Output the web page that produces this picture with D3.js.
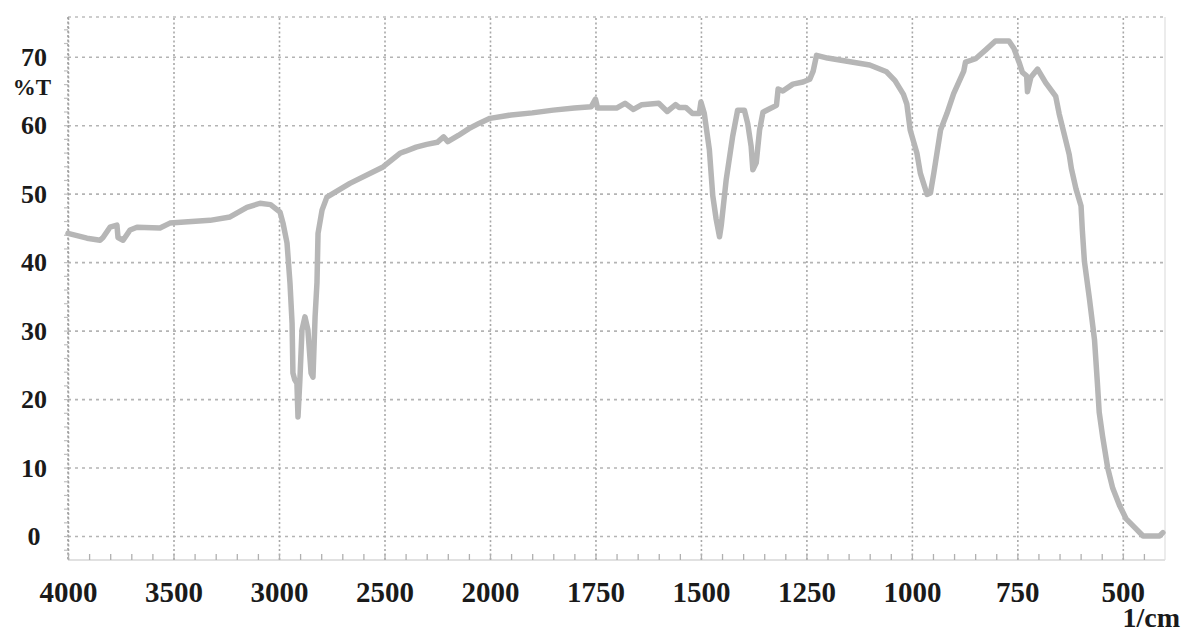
<!DOCTYPE html>
<html>
<head>
<meta charset="utf-8">
<script src="https://cdn.jsdelivr.net/npm/d3@7"></script>
<style>
  html, body { margin: 0; padding: 0; background: #fff; }
  svg { display: block; }
  .tick-label { font-family: "Liberation Serif", "Times New Roman", serif; font-weight: bold; fill: #1a1a1a; }
</style>
</head>
<body>
<svg id="chart" width="1186" height="636"></svg>
<script>
// FTIR transmittance spectrum: wavenumber (1/cm) vs %T
const wavenumbers = [
  4000, 3910, 3848, 3834, 3801, 3768, 3763, 3739, 3706, 3673, 3564, 3517, 3327, 3232, 3152, 3090,
  3040, 2995, 2981, 2962, 2948, 2938, 2934, 2925, 2915, 2910, 2901, 2891, 2877, 2863, 2848, 2839,
  2829, 2820, 2815, 2796, 2773, 2664, 2507, 2427, 2400, 2350, 2300, 2250, 2220, 2200, 2150, 2100,
  2050, 2000, 1950, 1900, 1850, 1800, 1760, 1750, 1745, 1700, 1680, 1660, 1640, 1600, 1580, 1560,
  1552, 1536, 1520, 1504, 1500, 1492, 1480, 1472, 1464, 1456, 1452, 1440, 1425, 1413, 1397, 1389,
  1381, 1377, 1369, 1361, 1353, 1337, 1321, 1317, 1306, 1282, 1258, 1242, 1234, 1226, 1200, 1150,
  1100, 1060, 1040, 1020, 1012, 1004, 988, 980, 964, 956, 948, 932, 917, 901, 877, 873,
  849, 825, 802, 770, 758, 746, 738, 728, 726, 718, 702, 683, 659, 651, 635, 627,
  622, 611, 599, 596, 591, 579, 567, 560, 556, 548, 536, 524, 508, 492, 468, 452,
  413, 405
];
const transmittance = [
  44.2, 43.5, 43.2, 43.6, 45.1, 45.4, 43.6, 43.2, 44.7, 45.1, 45.0, 45.7, 46.1, 46.6, 48.0, 48.6,
  48.4, 47.3, 45.7, 42.8, 37.0, 31.1, 23.8, 22.8, 22.3, 17.4, 22.8, 30.1, 32.0, 30.1, 23.8, 23.2,
  32.0, 37.0, 44.2, 47.6, 49.5, 51.5, 53.9, 55.9, 56.2, 56.8, 57.2, 57.5, 58.3, 57.6, 58.5, 59.5,
  60.3, 61.0, 61.5, 61.8, 62.2, 62.5, 62.7, 63.8, 62.5, 62.5, 63.2, 62.3, 63.0, 63.2, 62.0, 63.0,
  62.6, 62.6, 61.7, 61.7, 63.4, 61.7, 56.4, 49.7, 46.3, 43.7, 45.3, 52.1, 58.3, 62.2, 62.2, 60.2,
  56.9, 53.5, 54.5, 59.3, 61.9, 62.4, 62.9, 65.3, 65.0, 66.0, 66.3, 66.7, 67.9, 70.2, 69.8, 69.3,
  68.8, 67.8, 66.5, 64.5, 63.1, 59.3, 55.9, 53.0, 49.9, 50.1, 53.0, 59.3, 61.7, 64.6, 67.9, 69.2,
  69.7, 71.0, 72.3, 72.3, 71.2, 69.2, 67.7, 67.2, 64.9, 67.0, 68.2, 66.2, 64.2, 61.7, 57.7, 55.7,
  53.7, 50.7, 48.2, 44.7, 40.1, 34.6, 28.6, 22.1, 18.1, 14.6, 10.0, 7.0, 4.5, 2.5, 1.0, 0.0,
  0.0, 0.5
];

const xTickValues = [4000, 3500, 3000, 2500, 2000, 1750, 1500, 1250, 1000, 750, 500];
const yTickValues = [0, 10, 20, 30, 40, 50, 60, 70];
const xUnitLabel = "1/cm";
const yUnitLabel = "%T";

const spectrum = wavenumbers.map((w, i) => ({ w, t: transmittance[i] }));

const svg = d3.select("#chart");
const plot = { left: 68, right: 1165, top: 17, bottom: 560 };
const serif = '"Liberation Serif", "Times New Roman", serif';

// Instrument-style abscissa: scale halves below 2000 1/cm
const x = d3.scaleLinear().domain([4000, 2000, 400]).range([plot.left, 490, plot.right]);
const y = d3.scaleLinear().domain([-3.5, 75.8]).range([plot.bottom, plot.top]);

const g = svg.append("g");

// horizontal grid
g.append("g")
  .attr("transform", `translate(${plot.left},0)`)
  .call(d3.axisLeft(y).tickValues(yTickValues).tickSize(-(plot.right - plot.left)).tickFormat(""))
  .call(s => s.select(".domain").remove())
  .call(s => s.selectAll("line").attr("stroke", "#b4b4b4").attr("stroke-width", 1.6).attr("stroke-dasharray", "3,4"));

// vertical grid
g.append("g")
  .attr("transform", `translate(0,${plot.bottom})`)
  .call(d3.axisBottom(x).tickValues(xTickValues).tickSize(-(plot.bottom - plot.top)).tickFormat(""))
  .call(s => s.select(".domain").remove())
  .call(s => s.selectAll("line").attr("stroke", "#a8a8a8").attr("stroke-width", 1.6).attr("stroke-dasharray", "2,2.5"));

// frame
g.append("line").attr("x1", plot.left).attr("x2", plot.right).attr("y1", plot.top).attr("y2", plot.top)
  .attr("stroke", "#bdbdbd").attr("stroke-width", 1.5).attr("stroke-dasharray", "3,4");
g.append("line").attr("x1", plot.left).attr("x2", plot.right).attr("y1", plot.bottom).attr("y2", plot.bottom)
  .attr("stroke", "#c4c4c4").attr("stroke-width", 1.2);
g.append("line").attr("x1", plot.right).attr("x2", plot.right).attr("y1", plot.top).attr("y2", plot.bottom)
  .attr("stroke", "#e0e0e0").attr("stroke-width", 1.2);
g.append("line").attr("x1", plot.left).attr("x2", plot.left).attr("y1", plot.top).attr("y2", plot.bottom)
  .attr("stroke", "#9e9e9e").attr("stroke-width", 1.6).attr("stroke-dasharray", "2,2.5");

// minor ticks along the bottom edge
const minorX = d3.range(4000, 2000, -100).concat(d3.range(2000, 400, -50));
g.append("g")
  .attr("transform", `translate(0,${plot.bottom})`)
  .call(d3.axisBottom(x).tickValues(minorX).tickSize(-6).tickFormat(""))
  .call(s => s.select(".domain").remove())
  .call(s => s.selectAll("line").attr("stroke", "#b0b0b0").attr("stroke-width", 1.3));

// minor ticks along the left edge
g.append("g")
  .attr("transform", `translate(${plot.left},0)`)
  .call(d3.axisLeft(y).tickValues(d3.range(-2, 76, 2)).tickSize(4).tickFormat(""))
  .call(s => s.select(".domain").remove())
  .call(s => s.selectAll("line").attr("stroke", "#c0c0c0").attr("stroke-width", 1.2));

// x tick labels
g.append("g")
  .attr("transform", `translate(0,${plot.bottom})`)
  .attr("font-family", serif)
  .call(d3.axisBottom(x).tickValues(xTickValues).tickSize(0).tickPadding(0).tickFormat(d3.format("d")))
  .call(s => s.select(".domain").remove())
  .call(s => s.selectAll("text")
    .attr("class", "tick-label")
    .attr("dy", null)
    .attr("y", 42)
    .style("font-family", serif)
    .style("font-size", "29px"));

// y tick labels
yTickValues.forEach(v => {
  g.append("text")
    .attr("class", "tick-label")
    .attr("x", 34).attr("y", y(v) + 9)
    .attr("text-anchor", "middle")
    .style("font-size", "26px")
    .text(v);
});

// unit labels
g.append("text").attr("class", "tick-label")
  .attr("x", 32).attr("y", 95).attr("text-anchor", "middle")
  .style("font-size", "23px").text(yUnitLabel);
g.append("text").attr("class", "tick-label")
  .attr("x", 1180).attr("y", 627).attr("text-anchor", "end")
  .style("font-size", "28px").text(xUnitLabel);

// spectrum trace
const line = d3.line().x(d => x(d.w)).y(d => y(d.t)).curve(d3.curveLinear);
g.append("path")
  .datum(spectrum)
  .attr("d", line)
  .attr("fill", "none")
  .attr("stroke", "#b6b6b6")
  .attr("stroke-width", 5.5)
  .attr("stroke-linejoin", "round")
  .attr("stroke-linecap", "round");
</script>
</body>
</html>
